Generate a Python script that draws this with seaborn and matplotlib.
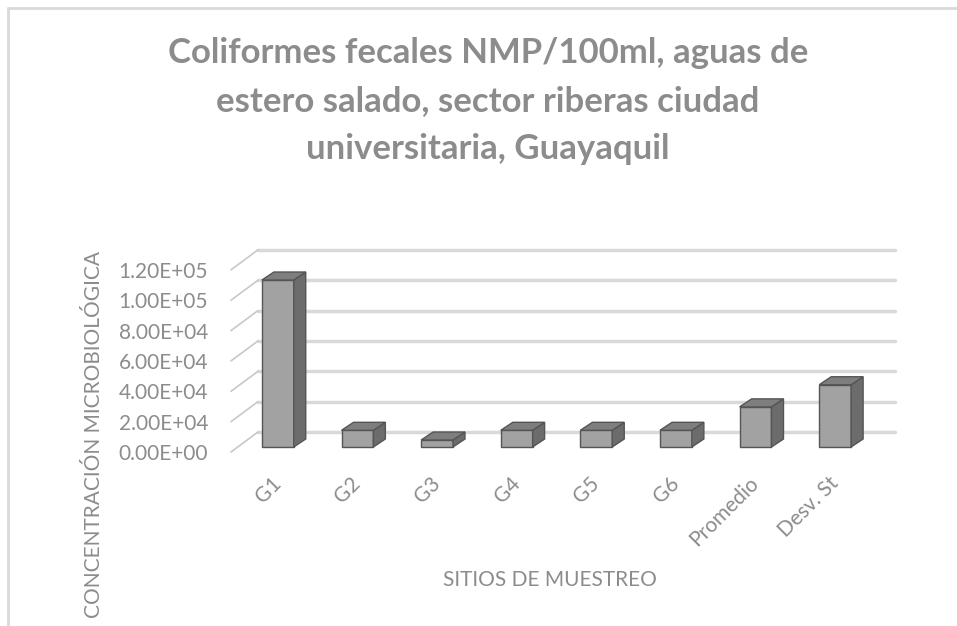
import numpy as np
import matplotlib.pyplot as plt
from matplotlib.patches import Polygon
from matplotlib.lines import Line2D
import seaborn as sns

# datos (NMP/100ml)
sitios = ["G1", "G2", "G3", "G4", "G5", "G6", "Promedio", "Desv. St"]
nmp = [110000, 11000, 4600, 11000, 11000, 11000, 26433, 41020]
y_ticks = [0, 20000, 40000, 60000, 80000, 100000, 120000]

sns.set_theme(style="white")
plt.rcParams['font.family'] = ['Lato', 'DejaVu Sans']

W, H = 957, 626
fig = plt.figure(figsize=(W / 100, H / 100), dpi=100)

# plano frontal del grafico 3D (en pixeles)
x0, x1, y0 = 231, 868, 452
px_val = 1.518 / 1000          # pixeles por unidad de valor
ymax = 120000
ax = fig.add_axes([x0 / W, (H - y0) / H, (x1 - x0) / W, ymax * px_val / H])

sns.barplot(x=sitios, y=nmp, color="#a2a2a2", saturation=1, width=0.4,
            edgecolor="#555555", linewidth=1, ax=ax, zorder=3)
ax.set_xlim(-0.5, len(sitios) - 0.5)
ax.set_ylim(0, ymax)

# conversion pixel -> datos
px_cat = (x1 - x0) / len(sitios)
def off(dx, dy):
    return dx / px_cat, dy / px_val

wx, wy = off(27, 20)   # pared del fondo
bx, by = off(7, 5)     # posicion de las barras en profundidad
dx, dy = off(12, 8)    # profundidad de cada barra

grid_c = "#d9d9d9"
for v in y_ticks:
    ax.plot([-0.5 + wx, len(sitios) - 0.5 + wx], [v + wy, v + wy],
            color=grid_c, lw=2.5, zorder=1, clip_on=False)
    ax.plot([-0.5, -0.5 + wx], [v, v + wy], color="#c8c8c8", lw=1.2,
            zorder=1, clip_on=False)

for p in ax.patches:
    x, w, h = p.get_x() + bx, p.get_width(), p.get_height()
    p.set_x(x)
    p.set_y(by)
    b = by
    side = [(x + w, b), (x + w + dx, b + dy), (x + w + dx, b + h + dy), (x + w, b + h)]
    top = [(x, b + h), (x + w, b + h), (x + w + dx, b + h + dy), (x + dx, b + h + dy)]
    ax.add_patch(Polygon(side, closed=True, fc="#6c6c6c", ec="#555555",
                         lw=1, zorder=3, clip_on=False))
    ax.add_patch(Polygon(top, closed=True, fc="#7e7e7e", ec="#555555",
                         lw=1, zorder=3, clip_on=False))

txt_c = "#8c8c8c"
ax.set_yticks(y_ticks)
ax.set_yticklabels([f"{v:.2E}" for v in y_ticks])
ax.tick_params(axis="y", length=0, pad=16.5, labelsize=15, labelcolor=txt_c)
ax.tick_params(axis="x", length=0, pad=15, labelsize=15, labelcolor=txt_c)
for lab in ax.get_xticklabels():
    lab.set_rotation(45)
    lab.set_ha("right")
    lab.set_rotation_mode("anchor")
ax.set_xlabel("")
ax.set_ylabel("")
sns.despine(ax=ax, left=True, bottom=True)
ax.patch.set_alpha(0)

fig.text(488 / W, 1 - 101 / H,
         "Coliformes fecales NMP/100ml, aguas de\nestero salado, sector riberas ciudad\nuniversitaria, Guayaquil",
         ha="center", va="center", fontsize=25, fontweight="bold",
         color=txt_c, linespacing=1.6)
fig.text(94 / W, 1 - 435 / H, "CONCENTRACIÓN MICROBIOLÓGICA", rotation=90,
         ha="center", va="center", fontsize=15, color=txt_c)
fig.text(550 / W, 1 - 580 / H, "SITIOS DE MUESTREO", ha="center",
         va="center", fontsize=15, color=txt_c)

# marco del area del grafico
fig.add_artist(Line2D([8 / W, 8 / W], [0, 1 - 8 / H], color="#d9d9d9", lw=2))
fig.add_artist(Line2D([8 / W, 1], [1 - 8 / H, 1 - 8 / H], color="#d9d9d9", lw=2))

fig.savefig("out.png", dpi=100)
